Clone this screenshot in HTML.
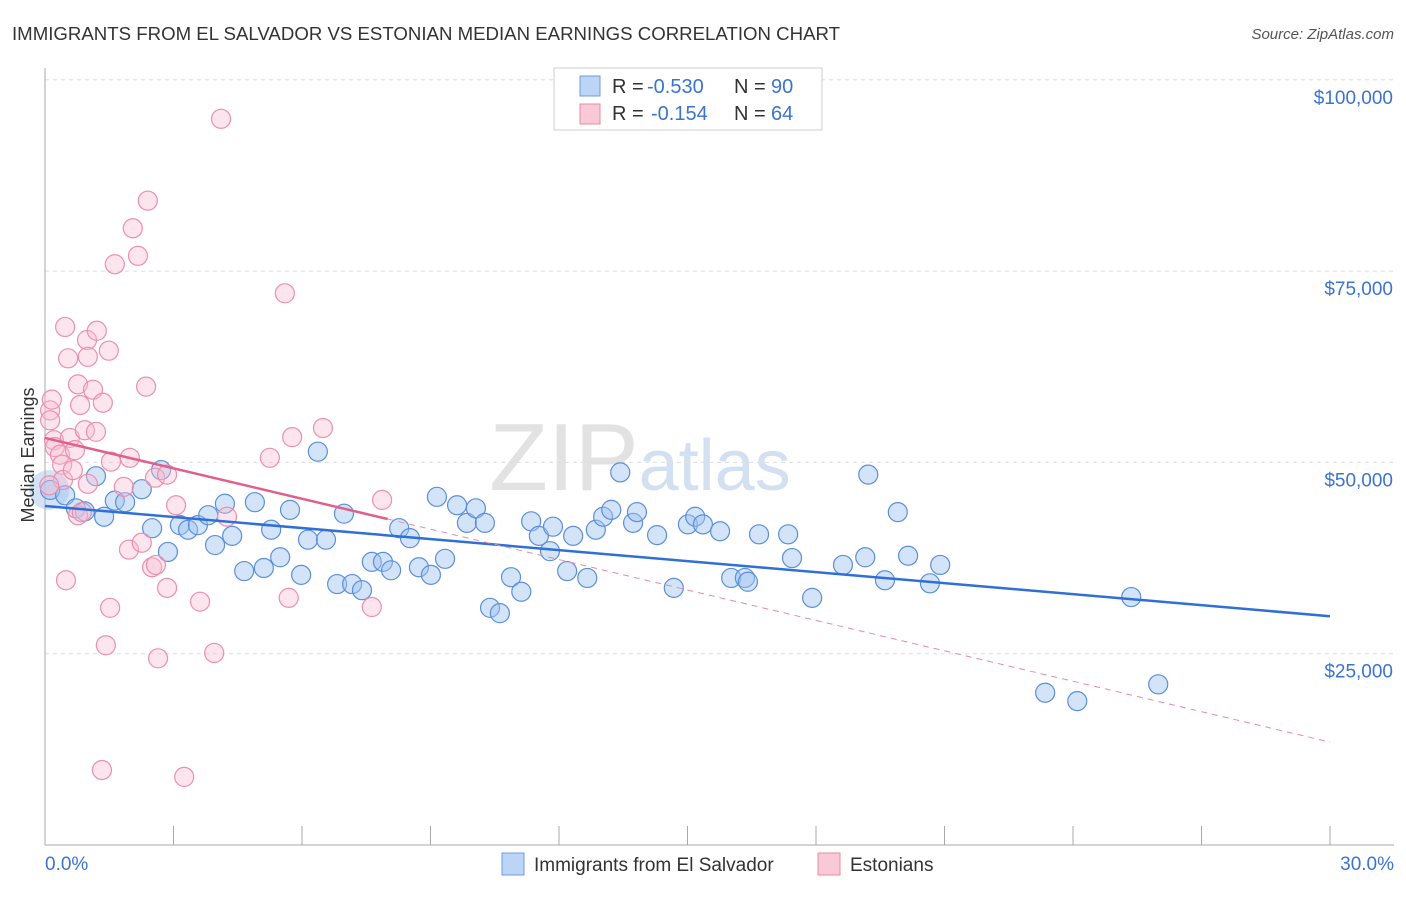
<!DOCTYPE html>
<html><head><meta charset="utf-8"><style>
body{margin:0;background:#fff;font-family:"Liberation Sans",sans-serif}
svg text{font-family:"Liberation Sans",sans-serif}
</style></head><body>
<svg id="chart" width="1406" height="892" xmlns="http://www.w3.org/2000/svg">
<text x="12" y="40" font-size="18" textLength="828" lengthAdjust="spacingAndGlyphs" fill="#333">IMMIGRANTS FROM EL SALVADOR VS ESTONIAN MEDIAN EARNINGS CORRELATION CHART</text>
<text x="1394" y="39" font-size="15" fill="#555" text-anchor="end" font-style="italic">Source: ZipAtlas.com</text>
<text x="640" y="490" font-size="96" fill="#e2e2e2" text-anchor="middle" font-family="Liberation Serif">ZIP<tspan fill="#d3e0f2" font-family="Liberation Sans" font-size="72">atlas</tspan></text>
<g id="grid"></g><g id="axes"></g><g id="pts"></g><g id="lines"></g>
<text transform="translate(34,455) rotate(-90)" font-size="18" fill="#333" text-anchor="middle">Median Earnings</text>
<g>
<rect x="554" y="68" width="268" height="62" fill="#fff" stroke="#ccc"/>
<rect x="580" y="76" width="20" height="20" fill="#bcd4f5" stroke="#6d9be0"/>
<rect x="580" y="104" width="20" height="20" fill="#f9c9d8" stroke="#e88aa8"/>
<text x="612" y="93" font-size="20" fill="#333">R =</text>
<text x="647" y="93" font-size="20" fill="#3b74d0">-0.530</text>
<text x="734" y="93" font-size="20" fill="#333">N =</text>
<text x="771" y="93" font-size="20" fill="#3b74d0">90</text>
<text x="612" y="120" font-size="20" fill="#333">R =</text>
<text x="651" y="120" font-size="20" fill="#3b74d0">-0.154</text>
<text x="734" y="120" font-size="20" fill="#333">N =</text>
<text x="771" y="120" font-size="20" fill="#3b74d0">64</text>
</g>
<g>
<rect x="502" y="853" width="22" height="22" fill="#bcd4f5" stroke="#6d9be0"/>
<text x="534" y="871" font-size="19" fill="#333">Immigrants from El Salvador</text>
<rect x="818" y="853" width="22" height="22" fill="#f9c9d8" stroke="#e88aa8"/>
<text x="850" y="871" font-size="19" fill="#333">Estonians</text>
</g>
</svg>
<script>
const yTicks=[25000,50000,75000,100000];
const yTickLabels=["$25,000","$50,000","$75,000","$100,000"];
const xTickLabels=["0.0%","30.0%"];
const blueX=[0.12,0.47,1.19,0.72,0.93,1.38,1.63,1.87,2.26,2.50,2.87,2.71,3.15,3.34,3.57,3.81,3.97,4.20,4.37,4.65,4.90,5.11,5.28,5.49,5.72,5.98,6.14,6.37,6.56,6.82,6.98,7.17,7.40,7.63,7.89,8.08,8.27,8.52,8.73,9.01,9.15,9.34,9.62,9.85,10.06,10.27,10.39,10.62,10.88,11.12,11.35,11.53,11.79,11.86,12.19,12.33,12.66,12.86,13.03,13.22,13.43,13.73,13.82,14.29,14.68,15.01,15.18,15.36,15.76,16.02,16.34,16.41,16.67,17.35,17.44,17.91,18.63,19.15,19.22,19.61,19.91,20.15,20.66,20.90,23.35,24.10,25.36,25.99];
const blueY=[46400,45700,48200,44000,43600,42900,45000,44800,46500,41400,38300,49000,41800,41200,41800,43100,39200,44600,40400,35800,44800,36200,41200,37600,43800,35300,39900,51400,39900,34100,43300,34100,33300,37000,37000,35900,41400,40100,36300,35300,45500,37400,44400,42100,44000,42100,31000,30300,35000,33100,42300,40400,38400,41600,35800,40400,34900,41200,42900,43800,48700,42100,43500,40500,33600,41900,42900,41900,41000,34900,34900,34400,40600,40600,37500,32300,36600,37600,48400,34600,43500,37800,34200,36600,19900,18800,32400,21000];
const pinkX=[0.12,0.16,0.12,0.21,0.23,0.35,0.40,0.42,0.47,0.54,0.49,0.58,0.65,0.70,0.77,0.82,0.77,0.86,0.93,0.98,1.00,1.00,1.12,1.19,1.21,1.35,1.33,1.42,1.49,1.52,1.54,1.63,1.84,1.96,1.98,2.05,2.17,2.26,2.36,2.40,2.50,2.57,2.59,2.64,2.85,2.85,3.06,3.25,3.62,3.95,4.11,4.25,5.25,5.60,5.69,5.77,6.49,7.63,7.87,0.10];
const pinkY=[56800,58200,55500,52900,52000,51000,49700,47700,67700,63600,34600,53200,49000,51600,60200,57500,43100,43500,54200,66000,63800,47200,59500,54000,67200,57800,9800,26100,64600,31000,50100,75900,46800,38600,50600,80600,77000,39500,59900,84200,36300,48000,36600,24400,33600,48400,44400,8900,31800,25100,94900,42900,50600,72100,32300,53300,54500,31100,45100,47000];
const blueTrend=[44300,29900];
const pinkTrend=[53200,42600,13450];
const X=p=>45+p*42.833, Y=v=>845-v*0.007652;
const NS='http://www.w3.org/2000/svg';
function mk(tag,at,parent){const e=document.createElementNS(NS,tag);for(const k in at)e.setAttribute(k,at[k]);document.getElementById(parent).appendChild(e);return e;}
yTicks.forEach((t,i)=>{
 const g=mk('line',{x1:45,x2:1394,y1:Y(t),y2:Y(t),stroke:'#ddd','stroke-dasharray':'4,4'},'grid');
 
 
 const l=mk('text',{x:1393,y:Y(t)+24,'font-size':19,fill:'#3b74d0','text-anchor':'end'},'axes');
 l.textContent=yTickLabels[i];
 
 
});
const ax=mk('line',{x1:45,x2:45,y1:68,y2:845,stroke:'#aaa'},'axes');


const bx=mk('line',{x1:45,x2:1394,y1:845,y2:845,stroke:'#aaa'},'axes');


for(let i=1;i<=10;i++){const t=mk('line',{x1:X(i*3),x2:X(i*3),y1:826,y2:845,stroke:'#aaa'},'axes');
 
 }
[[0,'start',45],[30,'end',1394]].forEach((d,i)=>{const t=mk('text',{x:d[2],y:870,'font-size':19,fill:'#3b74d0','text-anchor':d[1]},'axes');t.textContent=xTickLabels[i];
 
 });
const big=mk('circle',{cx:X(0.1),cy:Y(46400),r:20,fill:'rgba(160,190,235,0.45)',stroke:'none'},'pts');


blueX.forEach((x,i)=>{const c=mk('circle',{cx:X(x),cy:Y(blueY[i]),r:9.5,fill:'rgba(160,195,240,0.45)',stroke:'#5b8fdc','stroke-width':1.2},'pts');
 
 });
pinkX.forEach((x,i)=>{const c=mk('circle',{cx:X(x),cy:Y(pinkY[i]),r:9.5,fill:'rgba(248,190,210,0.4)',stroke:'#ec8fae','stroke-width':1.2},'pts');
 
 });
const bl=mk('line',{x1:X(0),y1:Y(blueTrend[0]),x2:X(30),y2:Y(blueTrend[1]),stroke:'#2f6fd6','stroke-width':2.5},'lines');


const pl=mk('line',{x1:X(0),y1:Y(pinkTrend[0]),x2:X(8),y2:Y(pinkTrend[1]),stroke:'#e0608a','stroke-width':2.5},'lines');


const pd=mk('line',{x1:X(8),y1:Y(pinkTrend[1]),x2:X(30),y2:Y(pinkTrend[2]),stroke:'#e88aa8','stroke-width':1,'stroke-dasharray':'6,5'},'lines');


</script>
</body></html>
